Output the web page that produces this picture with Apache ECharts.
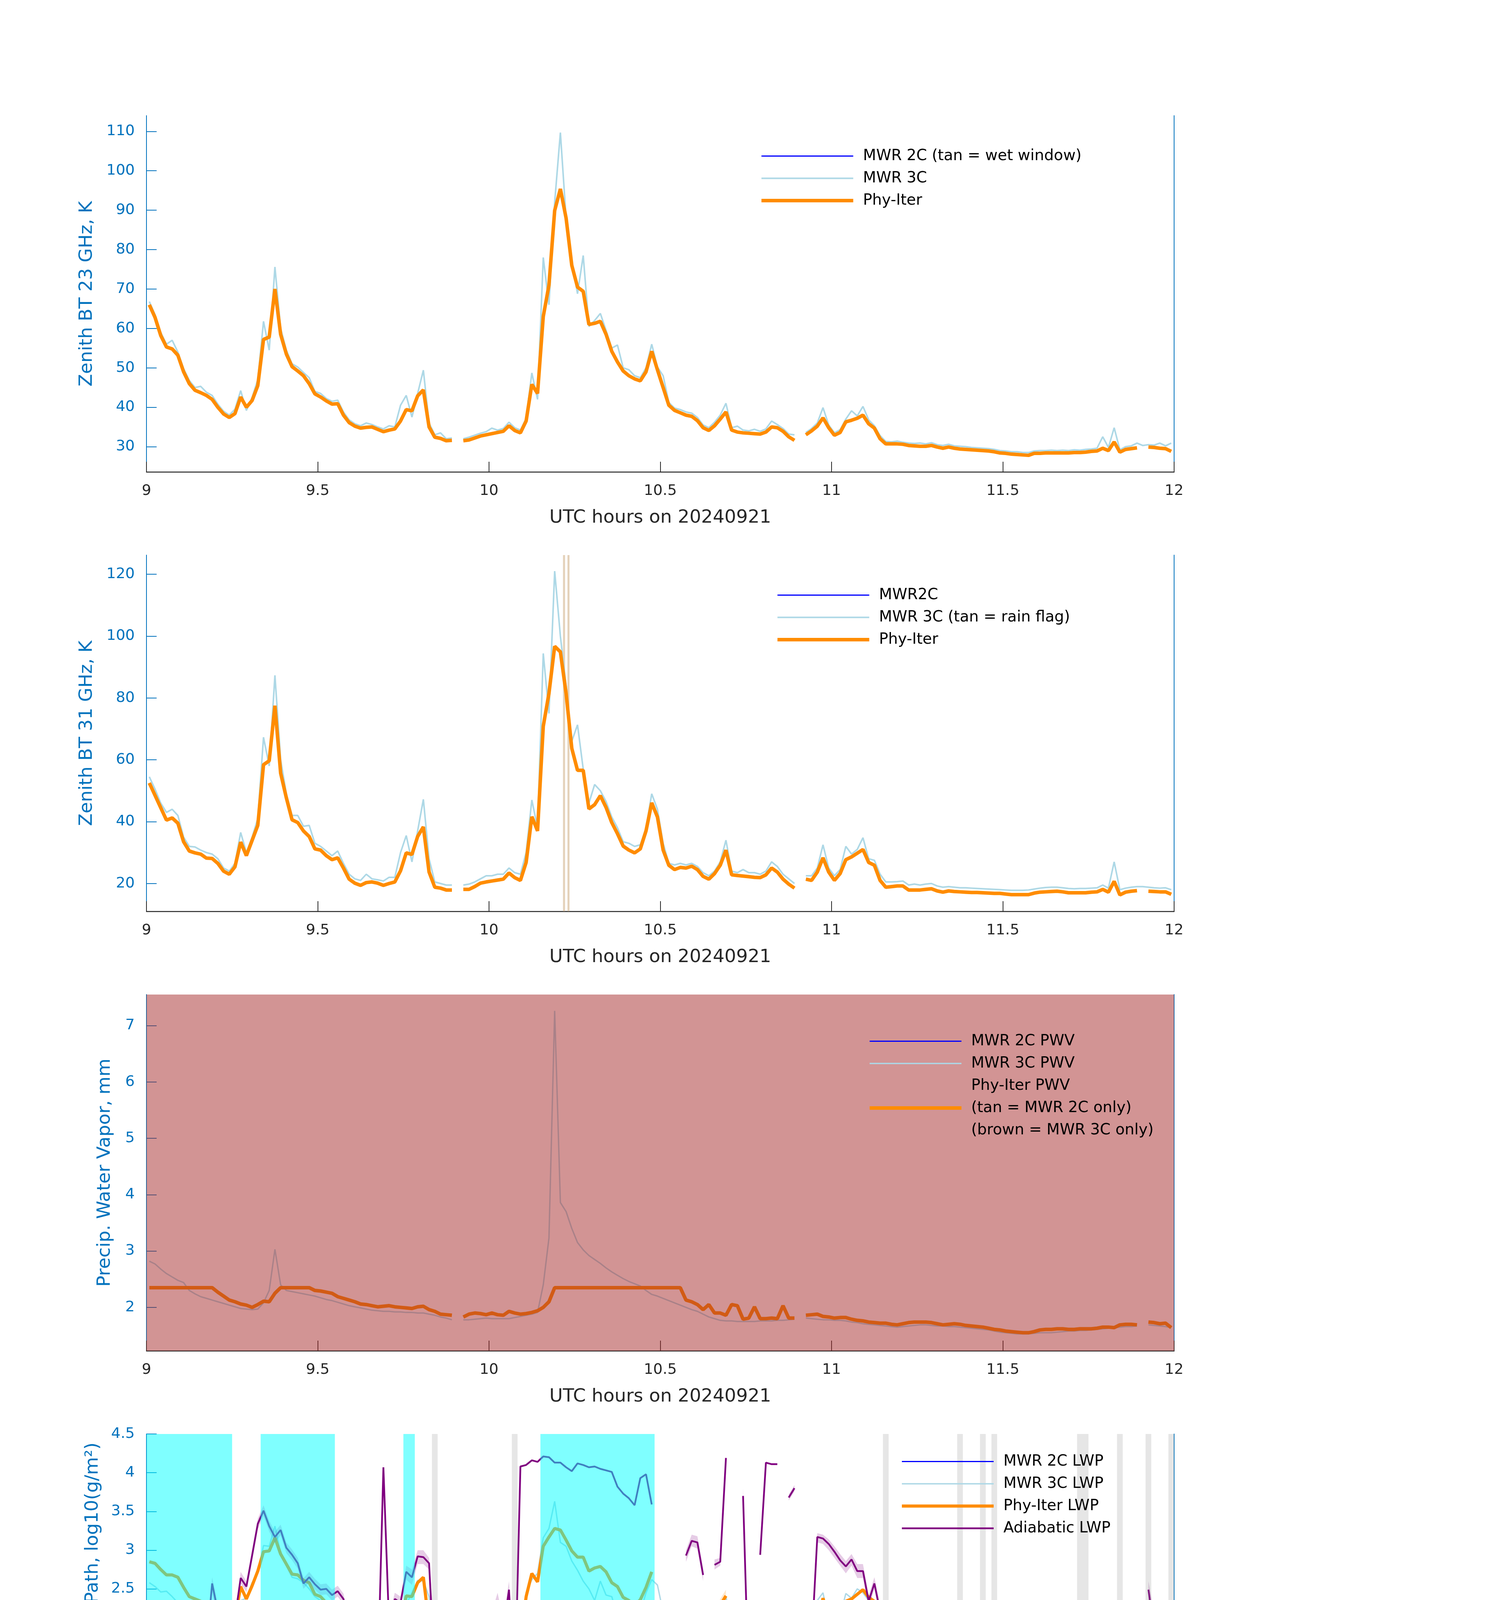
<!DOCTYPE html>
<html>
<head>
<meta charset="utf-8">
<script src="https://cdn.jsdelivr.net/npm/echarts@6/dist/echarts.min.js"></script>
<style>
  html, body { margin: 0; padding: 0; background: #fff; }
  #main { width: 3825px; height: 6000px; }
</style>
</head>
<body>
<div id="main"></div>
<script>
// one-minute samples, stamped at mid-minute, 09:00 - 12:00 UTC
var sampleStart = 9;
var sampleStep = 1 / 60;

// ---- panel 1 : zenith BT 23 GHz (K)
var bt23Phy = [
  66.0, 62.8, 58.2, 55.3, 54.8, 53.2, 49.0, 46.0, 44.3, 43.7,
  43.0, 42.0, 40.0, 38.3, 37.4, 38.4, 42.6, 40.0, 41.7, 45.5,
  57.2, 57.8, 70.0, 58.5, 53.5, 50.3, 49.2, 48.0, 46.0, 43.4,
  42.6, 41.6, 40.8, 40.9, 38.0, 36.1, 35.2, 34.7, 34.9, 35.0,
  34.4, 33.8, 34.2, 34.5, 36.5, 39.4, 39.1, 42.9, 44.4, 35.0,
  32.4, 32.1, 31.5, 31.6, null, 31.5, 31.7, 32.2, 32.7, 33.0,
  33.3, 33.6, 33.9, 35.3, 34.1, 33.5, 36.5, 45.8, 43.5, 63.0,
  71.0, 89.9, 95.4, 88.0, 76.0, 70.5, 69.4, 61.0, 61.3, 61.8,
  58.5, 54.2, 51.5, 49.2, 48.0, 47.2, 46.7, 49.0, 54.2, 49.5,
  45.0, 40.5, 39.2, 38.6, 38.0, 37.7, 36.6, 34.8, 34.1, 35.3,
  37.0, 38.8, 34.2, 33.7, 33.5, 33.4, 33.3, 33.2, 33.7, 35.0,
  34.8, 33.9, 32.5, 31.6, null, 33.0, 34.0, 35.2, 37.3, 34.8,
  32.9, 33.6, 36.3, 36.7, 37.2, 38.0, 35.8, 34.7, 32.0, 30.7,
  30.7, 30.7, 30.6, 30.3, 30.2, 30.1, 30.1, 30.3, 29.9, 29.6,
  29.9, 29.6, 29.4, 29.3, 29.2, 29.1, 29.0, 28.9, 28.7, 28.4,
  28.3, 28.1, 28.0, 27.9, 27.8, 28.3, 28.3, 28.4, 28.4, 28.4,
  28.4, 28.4, 28.5, 28.5, 28.6, 28.8, 28.9, 29.6, 29.0, 31.2,
  28.6, 29.3, 29.5, 29.7, null, 29.9, 29.8, 29.6, 29.5, 28.8
];
var bt23Mwr3 = [
  66.8, 63.5, 59.0, 56.0, 57.0, 54.0, 49.8, 46.8, 45.0, 45.3,
  43.8, 43.0, 40.8, 39.0, 38.0, 39.5, 44.2, 39.2, 42.5, 47.0,
  61.8, 54.5, 75.6, 60.0, 54.5, 51.0, 50.2, 48.8, 47.5, 44.0,
  43.5, 42.2, 41.5, 41.8, 38.8, 36.8, 35.8, 35.3, 36.0, 35.6,
  35.0, 34.5, 35.3, 35.0, 40.5, 43.0, 37.5, 43.5, 49.4, 36.0,
  33.0, 33.5, 32.0, 32.2, null, 32.0, 32.4, 32.9, 33.4, 33.8,
  34.7, 34.2, 34.6, 36.2, 34.8, 34.2, 37.2, 48.7, 42.0, 78.0,
  66.0, 92.0, 109.7, 88.0, 77.0, 68.8, 78.5, 60.5, 62.0, 63.8,
  59.5, 55.0, 55.8, 50.0, 49.5, 48.0, 47.5, 50.0, 56.0, 50.2,
  48.0, 41.2, 39.8, 39.4, 38.8, 38.5, 37.4, 35.5, 34.8, 36.2,
  38.0, 41.0, 34.8, 35.2, 34.2, 34.0, 34.4, 33.9, 34.5, 36.5,
  35.6, 34.6, 33.2, 33.0, null, 33.6, 34.6, 36.0, 39.9, 35.5,
  33.5, 34.3, 37.0, 39.1, 37.8, 40.2, 36.8, 35.3, 32.8, 31.3,
  31.2, 31.4, 31.1, 30.9, 30.8, 30.9, 30.7, 31.0, 30.5, 30.3,
  30.6, 30.2, 30.1, 30.0, 29.8, 29.7, 29.6, 29.5, 29.3, 29.0,
  28.9, 28.7, 28.7, 28.5, 28.5, 28.9, 29.0, 29.0, 29.1, 29.0,
  29.1, 29.0, 29.2, 29.1, 29.3, 29.4, 29.6, 32.5, 29.8, 34.8,
  29.2, 30.0, 30.2, 30.9, 30.3, 30.5, 30.4, 30.9, 30.2, 30.9
];
var bt23Mwr2 = [];

// ---- panel 2 : zenith BT 31 GHz (K)
var bt31Phy = [
  52.5, 48.5, 44.5, 40.5, 41.2, 39.5, 33.5, 30.5, 29.9, 29.5,
  28.2, 28.1, 26.5, 24.0, 23.0, 25.4, 33.4, 29.0, 33.9, 38.8,
  58.4, 59.7, 77.5, 55.7, 47.7, 40.6, 39.7, 37.0, 35.2, 31.2,
  30.8, 29.0, 27.7, 28.3, 25.0, 21.4, 20.1, 19.4, 20.3, 20.5,
  20.1, 19.4, 20.0, 20.5, 24.1, 29.9, 29.4, 35.2, 38.3, 23.7,
  18.8, 18.5, 17.9, 17.9, null, 18.1, 18.1, 19.0, 20.1, 20.5,
  20.8, 21.1, 21.4, 23.4, 21.9, 21.0, 26.8, 41.6, 37.0, 70.8,
  81.5, 96.7, 94.9, 81.5, 63.7, 56.6, 56.6, 44.1, 45.5, 48.4,
  44.6, 39.7, 36.1, 32.1, 30.8, 29.9, 31.2, 37.0, 46.1, 41.5,
  30.8, 25.9, 24.5, 25.2, 25.0, 25.6, 24.5, 22.3, 21.4, 23.2,
  25.9, 30.8, 22.8, 22.6, 22.4, 22.2, 22.0, 21.9, 22.8, 25.0,
  23.7, 21.4, 19.8, 18.5, null, 21.4, 21.0, 23.7, 28.3, 23.7,
  21.0, 23.2, 27.7, 28.6, 29.8, 31.0, 26.8, 25.9, 21.0, 18.8,
  19.0, 19.2, 19.2, 17.9, 17.9, 17.9, 18.1, 18.3, 17.6, 17.2,
  17.6, 17.4, 17.3, 17.2, 17.1, 17.1, 17.0, 16.9, 16.8, 16.8,
  16.6, 16.4, 16.4, 16.4, 16.4, 16.9, 17.2, 17.3, 17.4, 17.5,
  17.3, 17.0, 17.0, 17.0, 17.0, 17.2, 17.3, 18.1, 17.2, 20.7,
  16.3, 17.2, 17.5, 17.7, null, 17.5, 17.4, 17.3, 17.3, 16.5
];
var bt31Mwr3 = [
  54.5, 50.5, 46.0, 43.0, 44.0, 42.0, 35.0, 32.0, 31.8, 30.8,
  30.0, 29.5, 28.0, 25.0, 24.0, 26.5, 36.5, 30.0, 35.0, 41.0,
  67.3, 58.0, 87.3, 60.0, 49.0, 42.0, 42.0, 38.5, 38.8, 33.0,
  32.0, 30.5, 29.0, 30.5, 26.5, 23.0, 21.5, 21.0, 23.0, 21.5,
  21.2, 20.8, 22.0, 22.0, 30.0, 35.5, 27.0, 37.0, 47.2, 28.0,
  20.5, 20.0, 19.5, 19.5, null, 19.5, 19.8, 20.5, 21.5, 22.5,
  22.5, 23.0, 23.0, 25.0, 23.5, 23.0, 30.0, 47.0, 38.0, 94.4,
  75.0, 121.0, 100.0, 84.0, 66.0, 71.3, 57.0, 46.0, 52.0, 50.0,
  46.5, 41.5, 38.0, 33.5, 33.0, 32.0, 32.5, 38.0, 49.0, 44.0,
  33.0, 26.5, 26.0, 26.5, 26.0, 26.5, 25.5, 23.5, 22.5, 24.0,
  27.0, 34.0, 24.0, 23.5, 24.5, 23.5, 23.5, 23.0, 24.0, 27.0,
  25.5, 23.0, 21.5, 20.0, null, 22.5, 22.5, 25.0, 32.5, 25.0,
  22.5, 24.5, 32.0, 29.5, 31.0, 34.8, 28.0, 27.5, 23.0, 20.5,
  20.5, 20.6, 20.8, 19.5, 19.8, 19.5, 19.8, 20.0, 19.2, 18.8,
  19.0, 18.8, 18.6, 18.6, 18.5, 18.4, 18.3, 18.2, 18.1, 18.0,
  17.9, 17.8, 17.8, 17.8, 17.9, 18.2, 18.5, 18.7, 18.8, 18.8,
  18.6, 18.4, 18.3, 18.4, 18.4, 18.5, 18.6, 19.5, 18.5, 27.0,
  18.0, 18.5, 18.8, 19.0, 19.0, 18.8, 18.6, 18.5, 18.6, 18.0
];
var bt31Mwr2 = [];
var rainFlagSpans = [[10.216, 10.222], [10.229, 10.235]];

// ---- panel 3 : precipitable water vapour (mm)
var pwvPhy = [
  2.35, 2.35, 2.35, 2.35, 2.35, 2.35, 2.35, 2.35, 2.35, 2.35,
  2.35, 2.35, 2.27, 2.20, 2.13, 2.10, 2.06, 2.04, 2.00, 2.05,
  2.11, 2.10, 2.25, 2.35, 2.35, 2.35, 2.35, 2.35, 2.35, 2.30,
  2.29, 2.27, 2.25, 2.19, 2.16, 2.13, 2.10, 2.06, 2.05, 2.03,
  2.01, 2.02, 2.03, 2.01, 2.00, 1.99, 1.98, 2.01, 2.02, 1.96,
  1.93, 1.88, 1.87, 1.86, null, 1.83, 1.88, 1.90, 1.89, 1.87,
  1.90, 1.87, 1.86, 1.93, 1.90, 1.88, 1.89, 1.91, 1.94, 2.00,
  2.10, 2.35, 2.35, 2.35, 2.35, 2.35, 2.35, 2.35, 2.35, 2.35,
  2.35, 2.35, 2.35, 2.35, 2.35, 2.35, 2.35, 2.35, 2.35, 2.35,
  2.35, 2.35, 2.35, 2.35, 2.13, 2.10, 2.05, 1.96, 2.05, 1.90,
  1.90, 1.86, 2.05, 2.03, 1.79, 1.81, 2.01, 1.80, 1.80, 1.81,
  1.80, 2.03, 1.81, 1.81, null, 1.86, 1.87, 1.88, 1.84, 1.83,
  1.81, 1.82, 1.82, 1.79, 1.77, 1.76, 1.74, 1.73, 1.72, 1.72,
  1.70, 1.69, 1.71, 1.73, 1.74, 1.74, 1.74, 1.73, 1.71, 1.69,
  1.70, 1.71, 1.70, 1.68, 1.67, 1.66, 1.65, 1.63, 1.61, 1.60,
  1.58, 1.57, 1.56, 1.55, 1.55, 1.57, 1.60, 1.61, 1.61, 1.62,
  1.62, 1.61, 1.61, 1.62, 1.62, 1.62, 1.63, 1.65, 1.65, 1.64,
  1.69, 1.70, 1.70, 1.69, null, 1.74, 1.73, 1.71, 1.72, 1.64
];
var pwvMwr3 = [
  2.82, 2.77, 2.68, 2.60, 2.54, 2.48, 2.44, 2.30, 2.24, 2.19,
  2.16, 2.13, 2.10, 2.07, 2.04, 2.01, 1.98, 1.97, 1.96, 1.97,
  2.08, 2.30, 3.03, 2.40, 2.30, 2.28, 2.26, 2.24, 2.22, 2.20,
  2.17, 2.14, 2.12, 2.09, 2.06, 2.03, 2.01, 1.99, 1.97, 1.95,
  1.94, 1.93, 1.93, 1.92, 1.92, 1.91, 1.91, 1.90, 1.90, 1.88,
  1.86, 1.83, 1.81, 1.78, null, 1.78, 1.78, 1.79, 1.80, 1.81,
  1.80, 1.80, 1.80, 1.80, 1.82, 1.84, 1.86, 1.88, 1.91, 2.40,
  3.23, 7.26, 3.86, 3.70, 3.40, 3.15, 3.02, 2.92, 2.85, 2.78,
  2.70, 2.63, 2.57, 2.51, 2.46, 2.42, 2.38, 2.30, 2.23, 2.20,
  2.16, 2.12, 2.08, 2.04, 2.00, 1.96, 1.93, 1.88, 1.83, 1.80,
  1.77, 1.76, 1.76, 1.75, 1.75, 1.75, 1.75, 1.76, 1.76, 1.76,
  1.77, 1.77, 1.78, 1.79, null, 1.81, 1.80, 1.79, 1.78, 1.78,
  1.77, 1.77, 1.76, 1.74, 1.73, 1.71, 1.70, 1.69, 1.68, 1.67,
  1.66, 1.65, 1.66, 1.67, 1.68, 1.69, 1.69, 1.68, 1.67, 1.67,
  1.66, 1.66, 1.65, 1.64, 1.63, 1.62, 1.61, 1.60, 1.58, 1.56,
  1.55, 1.54, 1.53, 1.53, 1.53, 1.54, 1.55, 1.55, 1.55, 1.56,
  1.57, 1.58, 1.58, 1.59, 1.59, 1.60, 1.61, 1.62, 1.63, 1.64,
  1.65, 1.66, 1.66, 1.67, null, 1.69, 1.68, 1.67, 1.66, 1.64
];
var pwvMwr2 = [];
var pwvBrownSpans = [[9, 12]];

// ---- panel 4 : log10 liquid water path
var lwpMwr2 = [];
var lwpMwr3 = [
  2.58, 2.53, 2.46, 2.47, 2.40, 2.32, 2.15, 2.12, 2.13, 2.16,
  2.14, 2.11, 2.10, 1.95, 1.75, 2.10, 2.35, 2.38, 2.58, 2.70,
  3.06, 3.05, 3.31, 2.96, 2.80, 2.65, 2.63, 2.58, 2.50, 2.40,
  2.35, 2.30, 2.24, 2.28, 2.05, 1.85, 1.58, 1.45, 1.70, 1.94,
  1.62, 1.55, 1.80, 1.70, 1.95, 2.30, 2.45, 2.61, 2.60, 2.40,
  1.50, 1.70, 1.30, 1.38, null, 1.36, 1.30, 1.50, 1.66, 1.80,
  1.86, 1.92, 2.05, 2.05, 1.82, 1.88, 2.45, 2.62, 2.70, 3.16,
  3.28, 3.63, 3.10, 3.05, 2.86, 2.74, 2.60, 2.50, 2.35, 2.60,
  2.42, 2.40, 2.15, 2.14, 2.08, 2.07, 2.20, 2.45, 2.62, 2.55,
  2.20, 1.95, 1.93, 2.02, 2.07, 2.12, 2.04, 1.87, 1.83, 2.10,
  2.32, 2.40, 2.00, 2.10, 2.00, 1.98, 2.08, 2.00, 2.13, 2.23,
  2.14, 2.00, 1.79, 1.70, null, 1.91, 2.10, 2.35, 2.45, 2.08,
  1.95, 2.15, 2.44, 2.38, 2.50, 2.45, 2.35, 2.20, 1.90, 1.65,
  1.80, 1.81, 1.75, 1.60, 1.55, 1.55, 1.52, 1.38, 1.55, 1.30,
  1.50, 1.28, 1.28, 1.32, 1.34, 1.28, 1.22, 1.26, 1.22, 1.25,
  1.25, 1.10, 1.20, 1.20, 1.38, 1.46, 1.50, 1.52, 1.50, 1.46,
  1.40, 1.36, 1.34, 1.35, 1.33, 1.35, 1.42, 1.47, 2.00, 2.30,
  1.30, 1.30, 1.46, 1.58, null, null, 1.45, 1.30, 1.25, 1.30
];
var lwpPhy = [
  2.85, 2.83, 2.75, 2.68, 2.68, 2.65, 2.52, 2.40, 2.37, 2.34,
  2.28, 2.32, 2.18, 1.99, 1.93, 2.12, 2.53, 2.37, 2.54, 2.73,
  2.98, 2.99, 3.16, 2.95, 2.82, 2.69, 2.68, 2.61, 2.58, 2.43,
  2.40, 2.32, 2.27, 2.32, 2.06, 1.79, 1.50, 1.13, 1.48, 1.63,
  1.39, 1.27, 1.44, 1.62, 2.06, 2.41, 2.40, 2.58, 2.65, 2.04,
  1.11, 1.13, null, null, null, null, null, null, 1.29, 1.59,
  1.76, 1.80, 1.91, 2.08, 1.92, 1.80, 2.40, 2.70, 2.59, 3.05,
  3.17, 3.28, 3.26, 3.13, 2.99, 2.91, 2.91, 2.73, 2.77, 2.79,
  2.72, 2.58, 2.53, 2.39, 2.35, 2.29, 2.36, 2.52, 2.72, null,
  null, null, null, null, 2.12, 2.17, 2.14, 1.97, null, 2.11,
  2.29, 2.41, null, null, 2.04, 2.02, null, 1.98, 2.05, 2.18,
  2.12, null, 1.61, 1.33, null, 1.91, 1.86, 2.06, 2.38, 2.12,
  1.88, 2.06, 2.34, 2.37, 2.43, 2.49, 2.39, 2.34, 2.01, 1.56,
  1.59, 1.65, 1.64, 1.12, 1.18, 1.26, 0.66, 1.26, 1.04, -0.5,
  0.91, 0.63, -0.5, null, null, null, null, null, 0.26, null,
  null, null, null, null, null, null, null, null, null, null,
  null, null, null, null, 0.94, -0.5, 1.47, 1.24, 0.85, 1.92,
  -0.5, -0.04, null, 1.03, null, null, null, null, 0.31, -0.5
];
var lwpAdiabatic = [
  1.97, 2.01, 1.92, 1.99, 1.79, 2.23, 1.83, 1.23, 1.64, 2.06,
  1.75, 2.57, 2.21, 1.98, 2.24, 2.12, 2.64, 2.53, 2.93, 3.34,
  3.51, 3.31, 3.17, 3.26, 3.03, 2.94, 2.83, 2.57, 2.65, 2.56,
  2.49, 2.50, 2.42, 2.47, 2.37, 2.03, 1.49, 1.35, 1.50, 1.45,
  1.30, 4.07, 2.02, 2.37, 2.32, 2.72, 2.65, 2.92, 2.91, 2.83,
  1.39, 1.74, null, null, null, null, null, null, 1.44, 2.15,
  2.08, 2.33, 1.96, 2.49, 1.10, 4.08, 4.10, 4.16, 4.14, 4.21,
  4.20, 4.13, 4.13, 4.07, 4.02, 4.12, 4.10, 4.07, 4.08, 4.05,
  4.03, 4.01, 3.82, 3.73, 3.67, 3.58, 3.93, 3.98, 3.59, null,
  null, null, null, null, 2.93, 3.12, 3.10, 2.68, null, 2.81,
  2.85, 4.19, null, null, 3.70, 1.21, null, 2.94, 4.13, 4.11,
  4.11, null, 3.68, 3.80, null, 1.78, 1.78, 3.17, 3.15, 3.08,
  2.98, 2.87, 2.79, 2.88, 2.73, 2.73, 2.34, 2.57, 2.21, 1.43,
  2.03, 1.93, 1.92, 1.61, 1.42, 1.56, 1.30, 1.48, 1.42, 1.12,
  1.12, 1.55, 1.13, null, null, null, 1.13, null, 1.13, null,
  1.28, 1.59, null, null, null, null, null, null, null, null,
  null, null, null, 1.14, 1.15, 1.16, 1.59, 2.05, 2.12, 2.23,
  1.11, 1.16, null, 2.06, null, 2.49, 1.97, 1.49, 1.36, 1.15
];
// uncertainty envelopes: [sample, low, high]
var lwpPhyBand = [
  [35, 1.6, 1.85], [36, 0.9, 1.6], [37, -0.1, 1.3], [38, 0.9, 1.6], [39, 0.8, 1.75],
  [40, 0.9, 1.55], [41, -0.1, 1.5], [42, 0.7, 1.65], [43, 1.2, 1.8], [44, 1.9, 2.15],
  [50, -0.1, 1.3], [51, -0.1, 1.3],
  [58, -0.1, 1.45], [59, 1.1, 1.75], [60, 1.4, 1.9], [61, 1.55, 1.95], [62, 1.7, 2.05],
  [63, 1.85, 2.15], [64, 1.7, 2.05], [65, 1.6, 1.95],
  [94, 2.04, 2.2], [95, 2.09, 2.25], [96, 2.06, 2.22], [97, 1.89, 2.05],
  [99, 2.03, 2.19], [100, 2.21, 2.37], [101, 2.33, 2.49],
  [104, 1.96, 2.12], [105, 1.94, 2.1],
  [107, 1.9, 2.06], [108, 1.97, 2.13], [109, 2.1, 2.26], [110, 2.04, 2.2],
  [112, 0.6, 1.9], [113, 0.3, 1.5],
  [115, 1.7, 2.1], [116, 1.7, 2.0],
  [128, 1.6, 2.1], [129, 0.8, 1.9], [130, 1.2, 1.8], [131, 1.3, 1.85], [132, 1.4, 1.8],
  [133, -0.1, 1.45], [134, -0.1, 1.5], [135, -0.1, 1.55], [136, -0.1, 1.4], [137, -0.1, 1.55],
  [138, -0.1, 1.45], [139, -0.1, 1.3], [140, -0.1, 1.4], [141, -0.1, 1.5], [142, -0.1, 1.5],
  [146, -0.1, 1.5], [148, -0.1, 1.5], [150, -0.1, 1.45], [151, -0.1, 1.48],
  [163, -0.1, 1.5], [164, -0.1, 1.5], [165, -0.1, 1.5], [166, -0.1, 1.7], [167, -0.1, 1.7],
  [168, -0.1, 1.6], [169, -0.1, 2.2], [170, -0.1, 1.4], [171, -0.1, 1.4],
  [173, -0.1, 1.5],
  [176, -0.1, 1.4], [177, -0.1, 1.4], [178, -0.1, 1.4], [179, -0.1, 1.4]
];
var lwpAdiBand = [
  [0, 1.85, 2.1], [1, 1.85, 2.15], [2, 1.8, 2.05], [3, 1.85, 2.1], [4, 1.6, 1.95],
  [5, 2.05, 2.35], [6, 1.65, 1.95], [7, 0.8, 1.5], [8, 1.45, 1.8], [9, 1.95, 2.15],
  [10, 1.6, 1.9], [11, 2.45, 2.65], [12, 2.1, 2.3], [13, 1.85, 2.1], [14, 2.1, 2.35],
  [15, 2.05, 2.2], [16, 2.57, 2.72], [17, 2.46, 2.6], [18, 2.86, 3.0], [19, 3.27, 3.41],
  [20, 3.44, 3.58], [21, 3.24, 3.38], [22, 3.1, 3.24], [23, 3.19, 3.33], [24, 2.96, 3.1],
  [25, 2.87, 3.01], [26, 2.76, 2.9], [27, 2.5, 2.64], [28, 2.58, 2.72], [29, 2.49, 2.63],
  [30, 2.42, 2.56], [31, 2.43, 2.57], [32, 2.35, 2.49], [33, 2.4, 2.54], [34, 2.3, 2.44],
  [35, 1.95, 2.1], [36, 1.3, 1.6], [37, 1.1, 1.5], [38, 1.1, 1.65], [39, 1.0, 1.7],
  [40, 0.95, 1.5], [41, 4.0, 4.12], [42, 1.9, 2.15], [43, 2.3, 2.45], [44, 2.25, 2.4],
  [45, 2.62, 2.8], [46, 2.55, 2.75], [47, 2.82, 3.0], [48, 2.82, 3.0], [49, 2.75, 2.9],
  [50, 0.9, 1.9], [51, 1.3, 2.0],
  [58, 1.2, 1.9], [59, 2.0, 2.3], [60, 1.95, 2.2], [61, 2.2, 2.45], [62, 1.85, 2.1],
  [63, 2.35, 2.6], [64, 0.6, 1.3],
  [94, 2.85, 3.0], [95, 3.05, 3.2], [96, 3.02, 3.18], [97, 2.6, 2.76],
  [99, 2.75, 2.88], [100, 2.8, 2.9], [101, 4.15, 4.22],
  [104, 3.6, 3.8], [105, 0.66, 1.5],
  [112, 3.64, 3.72], [113, 3.76, 3.84],
  [115, 1.56, 2.03], [116, 1.56, 2.03], [117, 3.1, 3.22], [118, 3.08, 3.2], [119, 3.0, 3.14],
  [120, 2.9, 3.05], [121, 2.8, 2.95], [122, 2.7, 2.86], [123, 2.8, 2.95], [124, 2.64, 2.82],
  [125, 2.64, 2.82], [126, 2.25, 2.42], [127, 2.5, 2.65], [128, 2.12, 2.3], [129, 1.0, 1.7],
  [130, 1.7, 2.25], [131, 1.6, 2.1], [132, 1.5, 2.1], [133, 1.2, 1.85], [134, 1.0, 1.7],
  [135, 1.0, 1.8], [136, 0.9, 1.55], [137, 0.8, 1.7], [138, 0.7, 1.65], [139, 0.6, 1.45],
  [140, 0.6, 1.5], [141, 0.5, 1.8], [142, 0.5, 1.4],
  [146, 0.55, 1.5], [148, 0.55, 1.5], [150, 1.1, 1.5], [151, 1.3, 1.82],
  [163, 0.55, 1.3], [164, 0.55, 1.3], [165, 0.7, 1.4], [166, 1.0, 1.8], [167, 1.3, 2.2],
  [168, 1.2, 2.3], [169, 1.1, 2.35], [170, 0.6, 1.3], [171, 0.6, 1.35],
  [173, 1.9, 2.2],
  [175, 2.3, 2.6], [176, 1.6, 2.2], [177, 1.0, 1.7], [178, 0.8, 1.55], [179, 0.55, 1.3]
];

// ---- panel 5 : DQ flag, sample ranges per flag value
var dqFlagSamples = {
  11: '0-14,20-32,45-46,69-88',
  10: '20-24,45-46,69-73',
  9: '21-22,69-72,81-82',
  7: '0-12,22-32,71-93',
  6: '0-10,20-21,23-27,69-93,179',
  4: '50,64,129,142,146,148,163-164,170,175,179',
  1: '54,114,174',
  0: '15-19,33-44,47-49,51-53,55-63,65-68,94-113,115-128,130-141,143-145,147,149-162,165-169,171-173,176-178'
};

var xTicks = [9, 9.5, 10, 10.5, 11, 11.5, 12];

// ---------------------------------------------------------------
var FONT = 'DejaVu Sans';
var AXBLUE = '#0072BD';
var DARK = '#262626';
var ORANGE = '#FF8C00';
var LBLUE = '#ADD8E6';
var PURPLE = '#800080';

function sampleTime(i) { return sampleStart + (i + 0.5) * sampleStep; }

function toPairs(vals) {
  return vals.map(function (v, i) { return [sampleTime(i), v == null ? '-' : v]; });
}

function isolatedPoints(vals) {
  var out = [];
  vals.forEach(function (v, i) {
    if (v != null && vals[i - 1] == null && vals[i + 1] == null) out.push([sampleTime(i), v]);
  });
  return out;
}

function parseRuns(str) {
  var out = [];
  str.split(',').forEach(function (p) {
    var ab = p.split('-').map(Number);
    var b = ab.length > 1 ? ab[1] : ab[0];
    for (var i = ab[0]; i <= b; i++) out.push(i);
  });
  return out;
}

function samplesToSpans(idx) {
  var spans = [];
  idx.forEach(function (k) {
    var last = spans[spans.length - 1];
    if (last && last.k === k - 1) { last.k = k; last[1] = sampleStart + (k + 1) * sampleStep; }
    else { var s = [sampleStart + k * sampleStep, sampleStart + (k + 1) * sampleStep]; s.k = k; spans.push(s); }
  });
  return spans.map(function (s) { return [s[0], s[1]]; });
}

function lineSeries(grid, name, vals, color, width, z) {
  return {
    type: 'line', name: name, xAxisIndex: grid, yAxisIndex: grid,
    data: toPairs(vals), showSymbol: false, symbol: 'none', connectNulls: false,
    lineStyle: { color: color, width: width }, itemStyle: { color: color },
    z: z, silent: true, emphasis: { disabled: true }
  };
}

function spanSeries(grid, spans, color, z) {
  return {
    type: 'custom', xAxisIndex: grid, yAxisIndex: grid, z: z, silent: true,
    data: spans,
    renderItem: function (params, api) {
      var cs = params.coordSys;
      var x0 = api.coord([api.value(0), 0])[0];
      var x1 = api.coord([api.value(1), 0])[0];
      return { type: 'rect', shape: { x: x0, y: cs.y, width: x1 - x0, height: cs.height }, style: { fill: color } };
    }
  };
}

function bandSeries(grid, rows, color, z) {
  var runs = [], cur = null;
  rows.forEach(function (r) {
    if (cur && r[0] === cur[cur.length - 1][0] + 1) cur.push(r);
    else { cur = [r]; runs.push(cur); }
  });
  return {
    type: 'custom', xAxisIndex: grid, yAxisIndex: grid, z: z, silent: true,
    data: runs.map(function (r) { return [sampleTime(r[0][0]), r[0][1]]; }),
    renderItem: function (params, api) {
      var run = runs[params.dataIndex];
      var pts;
      if (run.length === 1) {
        var t = sampleTime(run[0][0]), h = sampleStep / 2;
        pts = [api.coord([t - h, run[0][2]]), api.coord([t + h, run[0][2]]),
               api.coord([t + h, run[0][1]]), api.coord([t - h, run[0][1]])];
      } else {
        pts = run.map(function (r) { return api.coord([sampleTime(r[0]), r[2]]); })
          .concat(run.slice().reverse().map(function (r) { return api.coord([sampleTime(r[0]), r[1]]); }));
      }
      return { type: 'polygon', shape: { points: pts }, style: { fill: color } };
    }
  };
}

var XMARK = 'path://M0,2 L2,0 L5,3 L8,0 L10,2 L7,5 L10,8 L8,10 L5,7 L2,10 L0,8 L3,5 Z';
function markerSeries(grid, vals, color, z) {
  return {
    type: 'scatter', xAxisIndex: grid, yAxisIndex: grid, data: isolatedPoints(vals),
    symbol: XMARK, symbolSize: 24, itemStyle: { color: color }, z: z, silent: true
  };
}

var gridTops = [296, 1421, 2546, 3671, 4796];
var grids = gridTops.map(function (t) {
  return { left: 375, top: t, width: 2631, height: 912, containLabel: false, outerBoundsMode: 'none' };
});

function xAxisFor(i) {
  return {
    type: 'value', gridIndex: i, min: 9, max: 12, position: 'bottom',
    name: 'UTC hours on 20240921', nameLocation: 'middle', nameGap: 94,
    nameTextStyle: { fontSize: 47, color: DARK, fontFamily: FONT },
    axisLine: { show: true, onZero: false, lineStyle: { color: DARK, width: 2.5 } },
    axisTick: { show: true, inside: true, length: 26, customValues: xTicks, lineStyle: { color: DARK, width: 2 } },
    axisLabel: { customValues: xTicks, fontSize: 38, color: DARK, margin: 30, fontFamily: FONT },
    splitLine: { show: false }
  };
}

function yAxisFor(i, min, max, ticks, name, gap) {
  return {
    type: 'value', gridIndex: i, min: min, max: max, position: 'left',
    name: name, nameLocation: 'middle', nameGap: gap, nameRotate: 90,
    nameTextStyle: { fontSize: 47, color: AXBLUE, fontFamily: FONT },
    axisLine: { show: true, onZero: false, lineStyle: { color: AXBLUE, width: 2 } },
    axisTick: { show: true, inside: true, length: 26, customValues: ticks, lineStyle: { color: AXBLUE, width: 2 } },
    axisLabel: { customValues: ticks, fontSize: 38, color: AXBLUE, margin: 30, fontFamily: FONT },
    splitLine: { show: false }
  };
}

function rightSpine(i, min, max) {
  return {
    type: 'value', gridIndex: i, min: min, max: max, position: 'right',
    axisLine: { show: true, onZero: false, lineStyle: { color: AXBLUE, width: 2 } },
    axisTick: { show: false }, axisLabel: { show: false }, splitLine: { show: false }
  };
}

var yRanges = [[23.6, 114], [11, 126.2], [1.23, 7.55], [-0.1, 4.5], [-0.5, 11.5]];
var yTicks = [
  [30, 40, 50, 60, 70, 80, 90, 100, 110],
  [20, 40, 60, 80, 100, 120],
  [2, 3, 4, 5, 6, 7],
  [0, 0.5, 1, 1.5, 2, 2.5, 3, 3.5, 4, 4.5],
  [0, 2, 4, 6, 8, 10]
];
var yNames = ['Zenith BT 23 GHz, K', 'Zenith BT 31 GHz, K', 'Precip. Water Vapor, mm',
              'log10 Liquid Water Path, log10(g/m\u00B2)', 'MWR Phy Iter DQ Flag'];
var yGaps = [129, 129, 83, 114, 105];

var xAxes = [], yAxes = [];
for (var g = 0; g < 5; g++) {
  xAxes.push(xAxisFor(g));
  yAxes.push(yAxisFor(g, yRanges[g][0], yRanges[g][1], yTicks[g], yNames[g], yGaps[g]));
}
for (var g2 = 0; g2 < 5; g2++) yAxes.push(rightSpine(g2, yRanges[g2][0], yRanges[g2][1]));

var TRANSPARENT = 'rgba(0,0,0,0)';
var series = [
  // panel 1
  lineSeries(0, 'MWR 2C (tan = wet window)', bt23Mwr2, '#0000FF', 3, 2),
  lineSeries(0, 'MWR 3C', bt23Mwr3, LBLUE, 4, 2),
  lineSeries(0, 'Phy-Iter', bt23Phy, ORANGE, 9, 3),
  // panel 2
  spanSeries(1, rainFlagSpans, 'rgba(210,180,140,0.6)', 1),
  lineSeries(1, 'MWR2C', bt31Mwr2, '#0000FF', 3, 2),
  lineSeries(1, 'MWR 3C (tan = rain flag)', bt31Mwr3, LBLUE, 4, 2),
  lineSeries(1, 'Phy-Iter', bt31Phy, ORANGE, 9, 3),
  // panel 3
  lineSeries(2, 'MWR 2C PWV', pwvMwr2, '#0000FF', 3, 2),
  lineSeries(2, 'MWR 3C PWV', pwvMwr3, LBLUE, 3.5, 2),
  lineSeries(2, 'Phy-Iter PWV', pwvPhy, ORANGE, 9, 3),
  lineSeries(2, '(tan = MWR 2C only)', [], ORANGE, 9, 3),
  lineSeries(2, '(brown = MWR 3C only)', [], TRANSPARENT, 1, 3),
  spanSeries(2, pwvBrownSpans, 'rgba(165,42,42,0.5)', 5),
  // panel 4
  lineSeries(3, 'MWR 2C LWP', lwpMwr2, '#0000FF', 3, 2),
  lineSeries(3, 'MWR 3C LWP', lwpMwr3, LBLUE, 3.5, 2),
  bandSeries(3, lwpPhyBand, 'rgba(255,140,0,0.2)', 3),
  lineSeries(3, 'Phy-Iter LWP', lwpPhy, ORANGE, 8, 4),
  bandSeries(3, lwpAdiBand, 'rgba(128,0,128,0.2)', 5),
  lineSeries(3, 'Adiabatic LWP', lwpAdiabatic, PURPLE, 4.5, 6),
  markerSeries(3, lwpPhy, ORANGE, 7),
  markerSeries(3, lwpAdiabatic, PURPLE, 7),
  spanSeries(3, samplesToSpans(parseRuns(dqFlagSamples[11])), 'rgba(0,255,255,0.5)', 8),
  spanSeries(3, samplesToSpans(parseRuns(dqFlagSamples[4])), 'rgba(128,128,128,0.2)', 8)
];

// panel 5 : one dot per flagged sample
var flagDots = [];
Object.keys(dqFlagSamples).forEach(function (level) {
  parseRuns(dqFlagSamples[level]).forEach(function (k) { flagDots.push([sampleTime(k), Number(level)]); });
});
series.push({
  type: 'scatter', xAxisIndex: 4, yAxisIndex: 4, data: flagDots,
  symbol: 'circle', symbolSize: [7, 9], itemStyle: { color: ORANGE }, z: 2, silent: true
});

function legendAt(left, top, names) {
  return {
    orient: 'vertical', left: left, top: top, itemWidth: 235, itemHeight: 40, itemGap: 18,
    z: 20, selectedMode: false,
    itemStyle: { color: TRANSPARENT, borderWidth: 0, opacity: 0 },
    lineStyle: { width: 'inherit' },
    textStyle: { fontSize: 39, color: '#000', fontFamily: FONT, padding: [0, 0, 0, 20] },
    data: names
  };
}

var option = {
  animation: false,
  backgroundColor: '#ffffff',
  textStyle: { fontFamily: FONT },
  grid: grids,
  xAxis: xAxes,
  yAxis: yAxes,
  legend: [
    legendAt(1940, 375, ['MWR 2C (tan = wet window)', 'MWR 3C', 'Phy-Iter']),
    legendAt(1981, 1499, ['MWR2C', 'MWR 3C (tan = rain flag)', 'Phy-Iter']),
    legendAt(2217, 2641, ['MWR 2C PWV', 'MWR 3C PWV',
      { name: 'Phy-Iter PWV', lineStyle: { opacity: 0 } },
      '(tan = MWR 2C only)',
      { name: '(brown = MWR 3C only)', lineStyle: { opacity: 0 } }]),
    legendAt(2300, 3717, ['MWR 2C LWP', 'MWR 3C LWP', 'Phy-Iter LWP', 'Adiabatic LWP'])
  ],
  series: series
};

var chart = echarts.init(document.getElementById('main'), null, { renderer: 'canvas' });
chart.setOption(option);
</script>
</body>
</html>
